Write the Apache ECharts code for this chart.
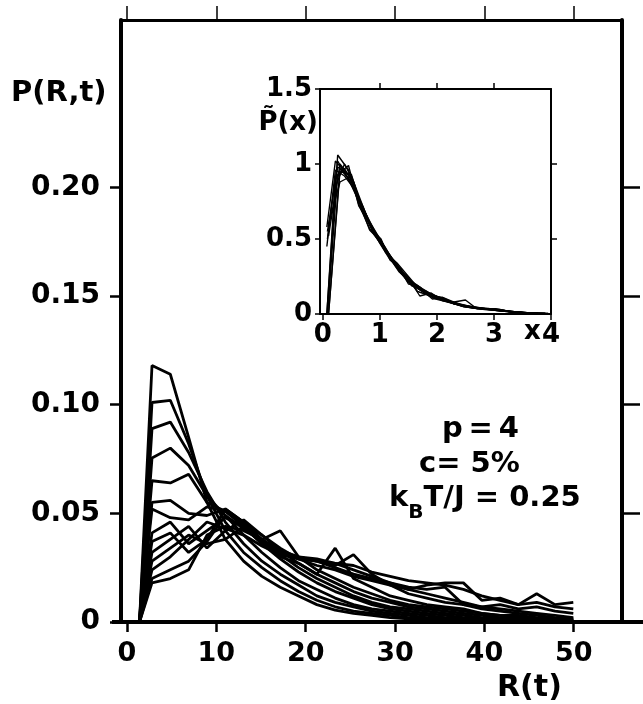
<!DOCTYPE html>
<html><head><meta charset="utf-8">
<script src="https://cdn.jsdelivr.net/npm/echarts@6/dist/echarts.min.js"></script>
<style>html,body{margin:0;padding:0;background:#fff}#c{width:643px;height:704px}</style>
</head><body><div id="c"></div>
<script>
// ---- main panel: R(t) grid and P(R,t) curves ----
const R = [1.4, 2.8, 4.85, 6.9, 8.95, 11, 13.05, 15.1, 17.15, 19.2, 21.25, 23.3, 25.35, 27.4, 29.45, 31.5, 33.55, 35.6, 37.65, 39.7, 41.75, 43.8, 45.85, 47.9, 49.95];
const p1  = [0, 0.118, 0.114, 0.085, 0.055, 0.038, 0.028, 0.021, 0.016, 0.012, 0.008, 0.0055, 0.004, 0.003, 0.002, 0.0015, 0.001, 0.001, 0.0005, 0.0005, 0, 0, 0, 0, 0];
const p2  = [0, 0.101, 0.102, 0.082, 0.058, 0.042, 0.032, 0.025, 0.019, 0.014, 0.010, 0.007, 0.005, 0.004, 0.003, 0.002, 0.0015, 0.001, 0.001, 0.0005, 0.0005, 0, 0, 0, 0];
const p3  = [0, 0.089, 0.092, 0.078, 0.060, 0.046, 0.036, 0.028, 0.022, 0.017, 0.012, 0.009, 0.007, 0.005, 0.004, 0.003, 0.002, 0.0015, 0.001, 0.001, 0.0005, 0.0005, 0, 0, 0];
const p4  = [0, 0.0755, 0.080, 0.072, 0.058, 0.049, 0.040, 0.032, 0.025, 0.019, 0.015, 0.011, 0.008, 0.006, 0.005, 0.004, 0.003, 0.002, 0.0015, 0.001, 0.001, 0.0005, 0.0005, 0, 0];
const p5  = [0, 0.065, 0.064, 0.068, 0.055, 0.051, 0.044, 0.036, 0.029, 0.023, 0.018, 0.014, 0.011, 0.008, 0.006, 0.005, 0.004, 0.003, 0.002, 0.0015, 0.001, 0.001, 0.0005, 0.0005, 0];
const p6  = [0, 0.055, 0.056, 0.050, 0.049, 0.052, 0.046, 0.038, 0.031, 0.025, 0.020, 0.016, 0.012, 0.009, 0.007, 0.006, 0.005, 0.004, 0.003, 0.002, 0.0015, 0.001, 0.001, 0.0005, 0.0005];
const p7  = [0, 0.052, 0.048, 0.047, 0.053, 0.051, 0.045, 0.040, 0.033, 0.027, 0.022, 0.018, 0.014, 0.011, 0.009, 0.007, 0.006, 0.005, 0.004, 0.003, 0.002, 0.0015, 0.001, 0.001, 0.0005];
const p8  = [0, 0.041, 0.046, 0.036, 0.042, 0.048, 0.044, 0.038, 0.042, 0.030, 0.024, 0.020, 0.016, 0.013, 0.010, 0.008, 0.007, 0.006, 0.005, 0.004, 0.003, 0.002, 0.0015, 0.001, 0.001];
const p9  = [0, 0.037, 0.041, 0.032, 0.038, 0.052, 0.046, 0.036, 0.030, 0.027, 0.022, 0.034, 0.020, 0.016, 0.012, 0.010, 0.008, 0.007, 0.006, 0.004, 0.003, 0.003, 0.002, 0.0015, 0.001];
const p10 = [0, 0.032, 0.038, 0.044, 0.034, 0.042, 0.047, 0.040, 0.034, 0.029, 0.028, 0.026, 0.031, 0.022, 0.017, 0.013, 0.011, 0.009, 0.008, 0.006, 0.005, 0.004, 0.003, 0.002, 0.0015];
const p11 = [0, 0.028, 0.034, 0.040, 0.036, 0.038, 0.044, 0.036, 0.032, 0.030, 0.029, 0.027, 0.024, 0.021, 0.018, 0.016, 0.015, 0.016, 0.008, 0.007, 0.006, 0.005, 0.004, 0.003, 0.002];
const p12 = [0, 0.024, 0.030, 0.038, 0.046, 0.043, 0.040, 0.035, 0.031, 0.029, 0.028, 0.025, 0.022, 0.020, 0.018, 0.015, 0.013, 0.011, 0.009, 0.007, 0.008, 0.006, 0.007, 0.005, 0.004];
const p13 = [0, 0.020, 0.024, 0.028, 0.037, 0.049, 0.043, 0.037, 0.033, 0.029, 0.026, 0.024, 0.021, 0.019, 0.017, 0.015, 0.017, 0.018, 0.018, 0.010, 0.011, 0.008, 0.013, 0.008, 0.009];
const p14 = [0, 0.018, 0.020, 0.024, 0.040, 0.044, 0.042, 0.038, 0.033, 0.030, 0.028, 0.027, 0.026, 0.023, 0.021, 0.019, 0.018, 0.017, 0.015, 0.012, 0.010, 0.008, 0.009, 0.007, 0.006];
const mainCurves = [p1, p2, p3, p4, p5, p6, p7, p8, p9, p10, p11, p12, p13, p14];
const mainTickX = [0, 10, 20, 30, 40, 50];
const mainTickY = [0, 0.05, 0.10, 0.15, 0.20];
const mainTickYRight = [0.05, 0.10, 0.15, 0.20];

// ---- inset: scaled curves P~(x) ----
const Xa = [0.08, 0.26, 0.45, 0.63, 0.82, 1.0, 1.18, 1.37, 1.55, 1.74, 1.92, 2.1, 2.29, 2.47, 2.66, 2.84, 3.03, 3.21, 3.4, 3.58, 3.77, 3.95];
const Xb = [0.1, 0.3, 0.5, 0.7, 0.9, 1.1, 1.3, 1.5, 1.7, 1.9, 2.1, 2.3, 2.5, 2.7, 2.9, 3.1, 3.3, 3.5, 3.7, 3.9];
const Xc = [0.07, 0.22, 0.38, 0.54, 0.7, 0.86, 1.02, 1.18, 1.34, 1.5, 1.66, 1.82, 1.98, 2.14, 2.3, 2.46, 2.62, 2.78, 2.94, 3.1, 3.26, 3.42, 3.58, 3.74, 3.9];
const ia1 = [0, 1.06, 0.96, 0.73, 0.57, 0.48, 0.37, 0.27, 0.20, 0.15, 0.12, 0.095, 0.07, 0.05, 0.038, 0.03, 0.025, 0.018, 0.012, 0.007, 0.004, 0.002];
const ia2 = [0.55, 0.98, 0.93, 0.76, 0.59, 0.50, 0.39, 0.29, 0.22, 0.17, 0.13, 0.10, 0.078, 0.06, 0.045, 0.036, 0.03, 0.02, 0.014, 0.009, 0.005, 0.003];
const ia3 = [0, 0.93, 0.99, 0.72, 0.60, 0.47, 0.36, 0.30, 0.19, 0.16, 0.10, 0.11, 0.08, 0.05, 0.042, 0.033, 0.035, 0.022, 0.012, 0.008, 0.006, 0.003];
const ia4 = [0.5, 1.02, 0.90, 0.75, 0.56, 0.49, 0.38, 0.28, 0.21, 0.16, 0.12, 0.09, 0.072, 0.056, 0.04, 0.032, 0.028, 0.017, 0.011, 0.007, 0.004, 0.002];
const ib1 = [0.52, 1.0, 0.90, 0.69, 0.54, 0.43, 0.32, 0.23, 0.17, 0.13, 0.10, 0.074, 0.05, 0.04, 0.034, 0.024, 0.015, 0.009, 0.006, 0.003];
const ib2 = [0, 0.95, 0.93, 0.68, 0.55, 0.44, 0.31, 0.24, 0.12, 0.14, 0.09, 0.08, 0.093, 0.035, 0.037, 0.026, 0.014, 0.01, 0.005, 0.003];
const ib3 = [0.6, 0.88, 0.92, 0.72, 0.53, 0.42, 0.33, 0.22, 0.18, 0.12, 0.1, 0.07, 0.052, 0.042, 0.03, 0.022, 0.016, 0.01, 0.006, 0.002];
const ib4 = [0, 0.97, 0.88, 0.71, 0.56, 0.41, 0.34, 0.25, 0.16, 0.12, 0.11, 0.068, 0.055, 0.045, 0.032, 0.02, 0.016, 0.008, 0.005, 0.002];
const ic1 = [0, 0.90, 0.97, 0.86, 0.70, 0.57, 0.48, 0.38, 0.30, 0.22, 0.18, 0.14, 0.115, 0.095, 0.075, 0.058, 0.045, 0.038, 0.034, 0.028, 0.018, 0.013, 0.008, 0.005, 0.003];
const ic2 = [0.58, 1.02, 0.95, 0.83, 0.71, 0.58, 0.47, 0.39, 0.29, 0.21, 0.17, 0.15, 0.11, 0.09, 0.07, 0.06, 0.044, 0.04, 0.033, 0.026, 0.02, 0.012, 0.007, 0.004, 0.002];
const ic3 = [0, 0.85, 1.0, 0.88, 0.69, 0.59, 0.49, 0.37, 0.28, 0.23, 0.15, 0.13, 0.12, 0.10, 0.07, 0.05, 0.048, 0.036, 0.031, 0.03, 0.017, 0.012, 0.009, 0.006, 0.003];
const ic4 = [0.45, 0.96, 0.92, 0.84, 0.72, 0.56, 0.50, 0.36, 0.31, 0.20, 0.19, 0.13, 0.10, 0.085, 0.068, 0.052, 0.04, 0.035, 0.03, 0.024, 0.016, 0.011, 0.006, 0.004, 0.002];
const insetCurves = [[Xa, ia1], [Xa, ia2], [Xa, ia3], [Xa, ia4], [Xb, ib1], [Xb, ib2], [Xb, ib3], [Xb, ib4], [Xc, ic1], [Xc, ic2], [Xc, ic3], [Xc, ic4]];
const insetTickX = [0, 1, 2, 3, 4];
const insetTickY = [0, 0.5, 1, 1.5];

const FONT = 'DejaVu Sans';
const labMain = {color: '#000', fontFamily: FONT, fontWeight: 'bold', fontSize: 27};
const labInset = {color: '#000', fontFamily: FONT, fontWeight: 'bold', fontSize: 26};
const blk = '#000';

function axisX(grid, pos, min, max, ticks, labels, lw, tlen, margin, lab) {
  return {
    type: 'value', gridIndex: grid, position: pos, min: min, max: max,
    axisLine: {show: true, onZero: false, lineStyle: {color: blk, width: lw}},
    axisTick: {show: true, inside: false, length: tlen, customValues: ticks, lineStyle: {color: blk, width: lw > 3 ? 2.5 : 1.5}},
    axisLabel: labels ? Object.assign({show: true, customValues: labels, margin: margin, formatter: v => String(v)}, lab) : {show: false},
    splitLine: {show: false}
  };
}
function axisY(grid, pos, min, max, ticks, labels, lw, tlen, margin, fmt, lab) {
  return {
    type: 'value', gridIndex: grid, position: pos, min: min, max: max,
    axisLine: {show: true, onZero: false, lineStyle: {color: blk, width: lw}},
    axisTick: {show: true, inside: false, length: tlen, customValues: ticks, lineStyle: {color: blk, width: lw > 3 ? 2.5 : 1.5}},
    axisLabel: labels ? Object.assign({show: true, customValues: labels, margin: margin, formatter: fmt}, lab) : {show: false},
    splitLine: {show: false}
  };
}

const series = [];
mainCurves.forEach(c => series.push({
  type: 'line', xAxisIndex: 0, yAxisIndex: 0, symbol: 'none', silent: true,
  lineStyle: {color: blk, width: 2.8}, data: R.map((r, i) => [r, c[i]])
}));
insetCurves.forEach(([xs, ys]) => series.push({
  type: 'line', xAxisIndex: 2, yAxisIndex: 2, symbol: 'none', silent: true,
  lineStyle: {color: blk, width: 1.4}, data: xs.map((x, i) => [x, ys[i]])
}));

const chart = echarts.init(document.getElementById('c'), null, {renderer: 'canvas'});
chart.setOption({
  animation: false,
  backgroundColor: '#fff',
  grid: [
    {left: 121, top: 20, width: 501, height: 602},
    {left: 320, top: 89, width: 231, height: 225}
  ],
  xAxis: [
    axisX(0, 'bottom', -0.67, 55.4, mainTickX, mainTickX, 4, 10, 18, labMain),
    axisX(0, 'top', -0.67, 55.4, mainTickX, null, 3, 14, 0, null),
    axisX(1, 'bottom', -0.05, 4.0, insetTickX, insetTickX, 2, 6, 8, labInset),
    axisX(1, 'top', -0.05, 4.0, [1, 2, 3], null, 2, 6, 0, null)
  ],
  yAxis: [
    axisY(0, 'left', 0, 0.277, mainTickY, mainTickY, 4, 11, 21, v => v === 0 ? '0' : v.toFixed(2), Object.assign({}, labMain, {fontSize: 28})),
    axisY(0, 'right', 0, 0.277, mainTickYRight, null, 4, 18, 0, null, null),
    axisY(1, 'left', 0, 1.5, insetTickY, insetTickY, 2, 5, 8, v => String(v), labInset),
    axisY(1, 'right', 0, 1.5, [0.5, 1], null, 2, 6, 0, null, null)
  ],
  series: series,
  graphic: [
    {type: 'line', shape: {x1: 112, y1: 622, x2: 121, y2: 622}, style: {stroke: blk, lineWidth: 4}},
    {type: 'line', shape: {x1: 622, y1: 622, x2: 643, y2: 622}, style: {stroke: blk, lineWidth: 4}},
    {type: 'text', left: 11, top: 79, style: {text: 'P(R,t)', fill: blk, font: 'bold 29px "DejaVu Sans"'}},
    {type: 'text', left: 497, top: 673, style: {text: 'R(t)', fill: blk, font: 'bold 30px "DejaVu Sans"'}},
    {type: 'text', right: 643 - 318, top: 110, style: {text: 'P\u0303(x)', fill: blk, font: 'bold 26px "DejaVu Sans"', align: 'right'}},
    {type: 'text', left: 524, top: 319, style: {text: 'x', fill: blk, font: 'bold 26px "DejaVu Sans"'}},
    {type: 'text', left: 442, top: 415, style: {text: 'p\u2009=\u20094', fill: blk, font: 'bold 29px "DejaVu Sans"'}},
    {type: 'text', left: 419, top: 450, style: {text: 'c= 5%', fill: blk, font: 'bold 29px "DejaVu Sans"'}},
    {type: 'text', left: 389, top: 484, style: {
      text: '{a|k}{b|B}{a|T/J = 0.25}', fill: blk,
      rich: {
        a: {fontFamily: FONT, fontWeight: 'bold', fontSize: 29, fill: blk},
        b: {fontFamily: FONT, fontWeight: 'bold', fontSize: 20, fill: blk, padding: [28, 0, 0, 0]}
      }
    }}
  ]
});
</script></body></html>
